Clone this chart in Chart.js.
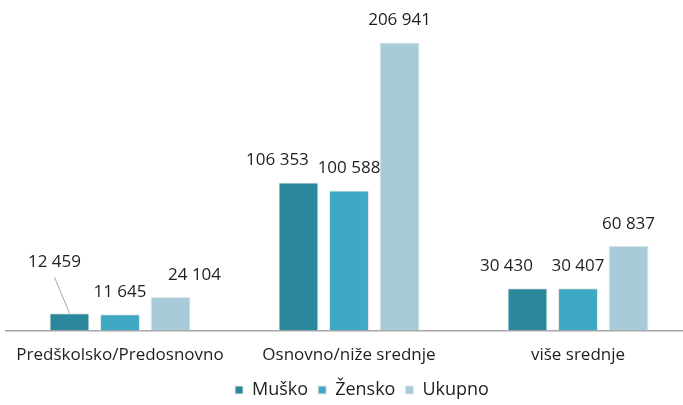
<!DOCTYPE html>
<html>
<head>
<meta charset="utf-8">
<script src="https://cdn.jsdelivr.net/npm/chart.js@4"></script>
<style>
  html, body { margin: 0; padding: 0; background: #fff; overflow: hidden; }
  #wrap { position: relative; width: 720px; height: 409px; }
</style>
</head>
<body>
<div id="wrap"><canvas id="chart"></canvas></div>
<script>
const categories = ['Predškolsko/Predosnovno', 'Osnovno/niže srednje', 'više srednje'];
const seriesNames = ['Muško', 'Žensko', 'Ukupno'];
const musko = [12459, 106353, 30430];
const zensko = [11645, 100588, 30407];
const ukupno = [24104, 206941, 60837];
const yMax = 230000;

const colors = ['#2b889c', '#3fa8c4', '#a7cbd9'];
const textColor = '#1f1f1f';
const fontFamily = "'Open Sans', 'Noto Sans', sans-serif";

// label nudges (Excel moved some labels to avoid overlaps)
const labelNudge = {
    '0-0': { dx: -15, dy: -29, leader: true },
    '2-0': { dx: 24, dy: 0 },
    '0-1': { dx: -21, dy: 0 },
    '0-2': { dx: -21, dy: 0 }
};

function fmt(v) {
    return String(v).replace(/\B(?=(\d{3})+(?!\d))/g, ' ');
}

const valueLabels = {
    id: 'valueLabels',
    afterDatasetsDraw(chart) {
        const ctx = chart.ctx;
        ctx.save();
        ctx.font = '17px ' + fontFamily;
        ctx.fillStyle = textColor;
        ctx.textAlign = 'center';
        ctx.textBaseline = 'middle';
        chart.data.datasets.forEach((ds, di) => {
            chart.getDatasetMeta(di).data.forEach((bar, i) => {
                const n = labelNudge[di + '-' + i] || { dx: 0, dy: 0 };
                const x = bar.x + n.dx;
                const y = bar.y - 22 + n.dy;
                if (n.leader) {
                    ctx.strokeStyle = '#a6a6a6';
                    ctx.lineWidth = 1;
                    ctx.beginPath();
                    ctx.moveTo(x, y + 15);
                    ctx.lineTo(bar.x, bar.y);
                    ctx.stroke();
                }
                ctx.fillText(fmt(ds.data[i]), x, y);
            });
        });
        ctx.restore();
    }
};

const ctx = document.getElementById('chart').getContext('2d');

new Chart(ctx, {
    type: 'bar',
    data: {
        labels: categories,
        datasets: [
            { label: seriesNames[0], data: musko, backgroundColor: colors[0] },
            { label: seriesNames[1], data: zensko, backgroundColor: colors[1] },
            { label: seriesNames[2], data: ukupno, backgroundColor: colors[2] }
        ]
    },
    options: {
        responsive: true,
        maintainAspectRatio: false,
        animation: false,
        datasets: {
            bar: {
                categoryPercentage: 0.662,
                barPercentage: 0.79,
                borderWidth: 1,
                borderColor: '#e6e6e6'
            }
        },
        layout: { padding: { top: 10.4, left: 5.5, right: 1.5, bottom: 0 } },
        scales: {
            x: {
                grid: { display: false, drawTicks: false },
                border: { display: true, color: '#a6a6a6', width: 1.5 },
                ticks: { color: textColor, font: { family: fontFamily, size: 17 }, padding: 14.5 },
                afterFit(scale) { scale.height = 40.5; }
            },
            y: {
                position: 'right',
                min: 0,
                max: yMax,
                grid: { display: false, drawTicks: false },
                border: { display: false },
                ticks: { display: false },
                afterFit(scale) { scale.width = 26; }
            }
        },
        plugins: {
            legend: {
                position: 'bottom',
                labels: {
                    boxWidth: 8,
                    boxHeight: 8,
                    padding: 10,
                    color: textColor,
                    font: { family: fontFamily, size: 18 }
                }
            },
            tooltip: { enabled: false }
        }
    },
    plugins: [valueLabels]
});
</script>
</body>
</html>
